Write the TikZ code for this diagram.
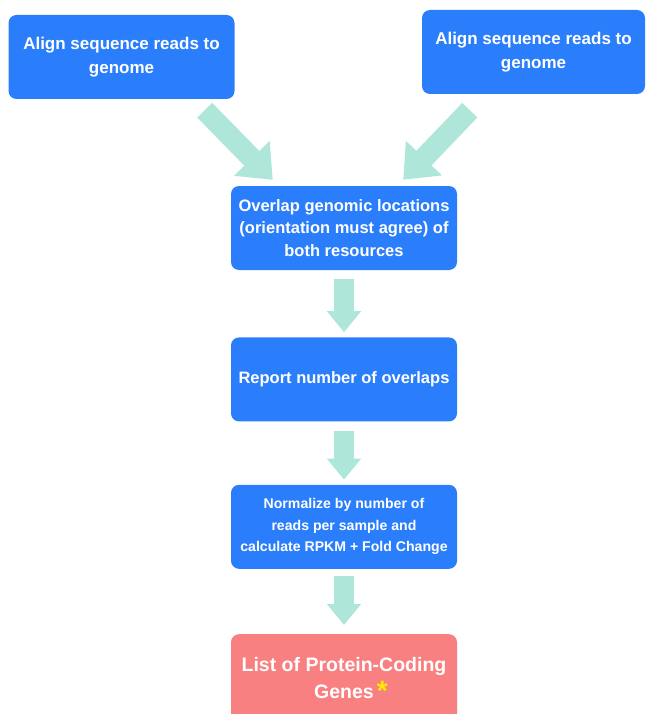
\documentclass[tikz,border=0pt]{standalone}
\usepackage{fontspec}
\setmainfont{Liberation Sans}
\usetikzlibrary{arrows.meta,positioning,calc}
\definecolor{stepblue}{HTML}{2B7EFB}
\definecolor{flow}{HTML}{AEE6D9}
\definecolor{result}{HTML}{F98080}
\definecolor{starmark}{HTML}{FFEB00}

\begin{document}
\begin{tikzpicture}[x=1pt,y=1pt,
  box/.style={fill=stepblue,rounded corners=8pt,minimum width=226pt,minimum height=84pt,
              inner sep=4pt,text=white,align=center,font=\bfseries\fontsize{16.5}{22.5}\selectfont},
  flowv/.style={-{Triangle[width=33pt,length=21pt]},draw=flow,line width=20pt},
  flowd/.style={-{Triangle[width=48pt,length=30pt]},draw=flow,line width=21pt}
]
\useasboundingbox (0,0) rectangle (646,-714);
\clip (0,0) rectangle (646,-714);
% top: the two alignments
\node[box,font=\bfseries\fontsize{17}{23.5}\selectfont] (lt) at (121.5,-57) {Align sequence reads to\\genome};
\node[box,minimum width=223pt,font=\bfseries\fontsize{17}{23.5}\selectfont] (rt) at (533.5,-52) {Align sequence reads to\\genome};
% main chain
\node[box] (ovl) at (344,-228) {Overlap genomic locations\\(orientation must agree) of\\both resources};
\node[box,below=67pt of ovl] (rep) {Report number of overlaps};
\node[box,below=63pt of rep,font=\bfseries\fontsize{14.1}{21.5}\selectfont] (norm) {Normalize by number of\\reads per sample and\\calculate RPKM + Fold Change};
\node[box,below=65pt of norm,fill=result,minimum height=90pt,font=\bfseries\fontsize{19.5}{27}\selectfont] (genes)
  {List of Protein-Coding\\\hspace*{14pt}Genes\,\raisebox{-2pt}{\textcolor{starmark}{\fontsize{28}{28}\selectfont*}}};
% arrows
\draw[flowd] ($(lt.south east)+(-30,-11)$) -- ($(ovl.north west)+(42,6)$);
\draw[flowd] ($(rt.south west)+(48,-16)$) -- ($(ovl.north east)+(-54,6)$);
\draw[flowv,shorten <=9pt,shorten >=5pt] (ovl) -- (rep);
\draw[flowv,shorten <=9pt,shorten >=5pt] (rep) -- (norm);
\draw[flowv,shorten <=7pt,shorten >=9pt] (norm) -- (genes);
\end{tikzpicture}
\end{document}
